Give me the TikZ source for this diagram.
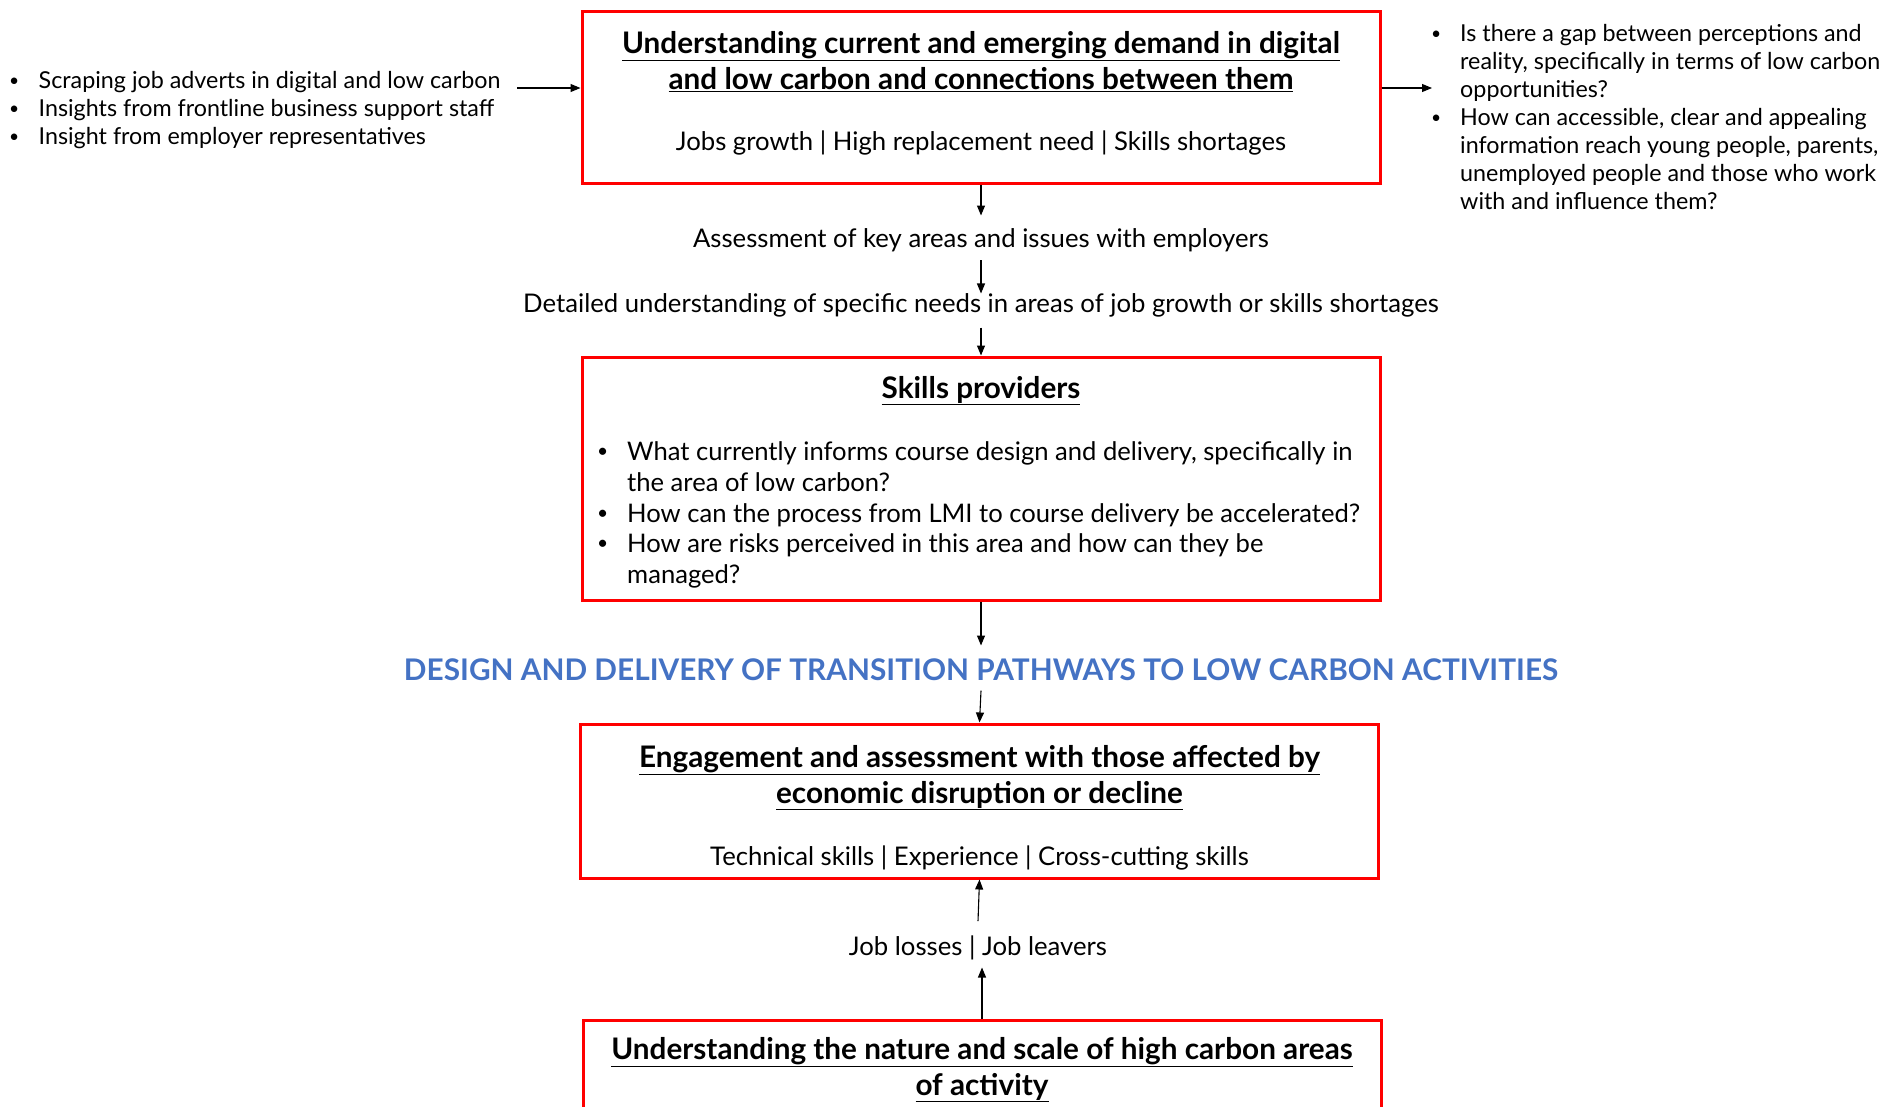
\documentclass[tikz,border=0pt]{standalone}
\usepackage{fontspec}
\setmainfont{Lato}
\usetikzlibrary{arrows.meta}
\definecolor{boxred}{RGB}{255,0,0}
\definecolor{titleblue}{RGB}{68,114,196}
\newcommand{\fsz}[2]{\fontsize{#1}{#2}\selectfont}
\newcommand{\bul}[1]{\makebox[#1][l]{\hspace*{-5pt}\raisebox{0.12em}{\scalebox{0.75}{\textbullet}}}}
\newcommand{\ul}[1]{\underline{#1}}
\begin{document}
\begin{tikzpicture}[x=1pt,y=-1pt,
  redbox/.style={draw=boxred, line width=3pt, inner sep=0pt, minimum width=798pt},
  arr/.style={-{Triangle[length=10pt,width=8pt]}, line width=1.1pt},
  headtext/.style={font=\bfseries\fsz{29.7}{36}, align=center, inner sep=0pt},
  bodytext/.style={font=\fsz{25.7}{28}, align=center, inner sep=0pt},
  sidelist/.style={font=\fsz{23.3}{28}, align=left, inner sep=0pt, anchor=west},
  boxlist/.style={font=\fsz{25.6}{30.7}, align=left, inner sep=0pt, anchor=west},
  bluehead/.style={font=\bfseries\fsz{29.8}{30}, text=titleblue, inner sep=0pt}]
\useasboundingbox (0,0) rectangle (1887,1106);

% demand box
\node[redbox, minimum height=172pt] (demand) at (981,97) {};
\node[headtext] (demandtitle) at (981,61.5)
  {\ul{Understanding current and emerging demand in digital}\\
   \ul{and low carbon and connections between them}};
\node[bodytext] (demandsub) at (981,142.5)
  {Jobs growth | High replacement need | Skills shortages};

% evidence sources on the left
\node[sidelist] (sources) at (14,110.5)
  {\bul{24.5pt}Scraping job adverts in digital and low carbon\\
   \bul{24.5pt}Insights from frontline business support staff\\
   \bul{24.5pt}Insight from employer representatives};

% questions on the right
\node[sidelist] (questions) at (1436,117.5)
  {\bul{24pt}Is there a gap between perceptions and\\
   \hspace*{24pt}reality, specifically in terms of low carbon\\
   \hspace*{24pt}opportunities?\\
   \bul{24pt}How can accessible, clear and appealing\\
   \hspace*{24pt}information reach young people, parents,\\
   \hspace*{24pt}unemployed people and those who work\\
   \hspace*{24pt}with and influence them?};

\coordinate (inarrow) at (517,88);
\coordinate (outarrow) at (1432,88);
\draw[arr] (inarrow) -- (inarrow -| demand.west);
\draw[arr] (outarrow -| demand.east) -- (outarrow);

% intermediate steps
\node[bodytext] (assess) at (981,240.5) {Assessment of key areas and issues with employers};
\node[bodytext] (detail) at (981,305.5)
  {Detailed understanding of specific needs in areas of job growth or skills shortages};

% skills providers box
\node[redbox, minimum height=243pt] (skills) at (981,478.5) {};
\node[headtext] (skillstitle) at (981,390.5) {\ul{Skills providers}};
\node[boxlist] (skillsq) at (602,515)
  {\bul{25pt}What currently informs course design and delivery, specifically in\\
   \hspace*{25pt}the area of low carbon?\\
   \bul{25pt}How can the process from LMI to course delivery be accelerated?\\
   \bul{25pt}How are risks perceived in this area and how can they be\\
   \hspace*{25pt}managed?};

% pathways heading
\node[bluehead] (pathways) at (981,669.5)
  {DESIGN AND DELIVERY OF TRANSITION PATHWAYS TO LOW CARBON ACTIVITIES};

% engagement box
\node[redbox, minimum height=154pt] (engage) at (979.5,801) {};
\node[headtext] (engagetitle) at (979.5,777.5)
  {\ul{Engagement and assessment with those affected by}\\
   \ul{economic disruption or decline}};
\node[bodytext] (engagesub) at (979.5,857.5)
  {Technical skills | Experience | Cross-cutting skills};

\node[bodytext] (losses) at (978,947.5) {Job losses | Job leavers};

% high carbon box (runs off the lower edge)
\node[redbox, minimum height=200pt] (highcarbon) at (982,1120) {};
\node[headtext] (hctitle) at (982,1069.5)
  {\ul{Understanding the nature and scale of high carbon areas}\\
   \ul{of activity}};

% connectors
\draw[arr] (demand.south) -- ++(0,31);
\draw[arr] (assess.south) ++(0,8) -- (detail.north);
\draw[arr] (detail.south) ++(0,10) -- (skills.north);
\draw[arr] (skills.south) -- ++(0,44);
\draw[arr] (pathways.south) ++(0,10) -- (engage.north);
\draw[arr] (losses.north) ++(0,-14) -- (engage.south);
\draw[arr] (highcarbon.north) -- ++(0,-51);
\end{tikzpicture}
\end{document}
